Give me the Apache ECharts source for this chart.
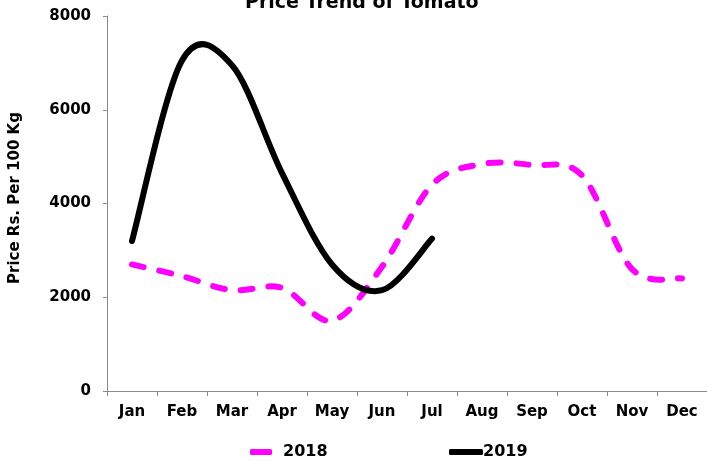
<!DOCTYPE html>
<html>
<head>
<meta charset="utf-8">
<script src="https://cdn.jsdelivr.net/npm/echarts@6/dist/echarts.min.js"></script>
<style>
html,body{margin:0;padding:0;background:#fff;}
#main{width:707px;height:461px;}
</style>
</head>
<body>
<div id="main"></div>
<script>
// month labels on the x axis
var months=['Jan','Feb','Mar','Apr','May','Jun','Jul','Aug','Sep','Oct','Nov','Dec'];
// price Rs. per 100 kg
var price2018=[2700,2450,2150,2200,1500,2650,4400,4840,4820,4600,2600,2400];
var price2019=[3200,7050,6950,4650,2700,2150,3250];
var yTicks={min:0,max:8000,interval:2000};

var font='DejaVu Sans';

// excel style smoothed line (catmull-rom as bezier), one path per series,
// the points come from the axes via api.coord
function smoothLine(values,color,dash){
	return function(params,api){
		if(params.dataIndex!==0) return;
		var p=[];
		for(var i=0;i<values.length;i++){
			p.push(api.coord([i,values[i]]));
		}
		var d='M'+p[0][0]+' '+p[0][1];
		for(var j=0;j<p.length-1;j++){
			var a=p[j-1]||p[j], b=p[j], c=p[j+1], e=p[j+2]||p[j+1];
			var c1x=b[0]+(c[0]-a[0])/6, c1y=b[1]+(c[1]-a[1])/6;
			var c2x=c[0]-(e[0]-b[0])/6, c2y=c[1]-(e[1]-b[1])/6;
			d+=' C'+c1x+' '+c1y+' '+c2x+' '+c2y+' '+c[0]+' '+c[1];
		}
		return {
			type:'path',
			shape:{pathData:d},
			style:{fill:'none',stroke:color,lineWidth:6,lineDash:dash,lineCap:'round',lineJoin:'round'}
		};
	};
}
function pairs(values){
	return values.map(function(v,i){return [i,v];});
}

var myChart=echarts.init(document.getElementById('main'));
var option={
	animation:false,
	backgroundColor:'#fff',
	title:{
		text:'Price Trend of Tomato',
		left:245,
		top:-6,
		padding:0,
		textStyle:{fontFamily:font,fontWeight:'bold',fontSize:19,color:'#000'}
	},
	legend:[{
		data:['2018'],
		left:250,top:444,padding:0,
		icon:'roundRect',itemWidth:22,itemHeight:6,
		itemStyle:{borderWidth:0},
		textStyle:{fontFamily:font,fontWeight:'bold',fontSize:16,color:'#000',padding:[0,0,0,6]}
	},{
		data:['2019'],
		left:449,top:444,padding:0,
		icon:'roundRect',itemWidth:34,itemHeight:6,
		itemStyle:{borderWidth:0},
		textStyle:{fontFamily:font,fontWeight:'bold',fontSize:16,color:'#000',padding:[0,0,0,-5]}
	}],
	grid:{left:107,top:16,width:605,height:375,containLabel:false},
	xAxis:{
		type:'category',
		data:months,
		boundaryGap:true,
		axisLine:{lineStyle:{color:'#8c8c8c',width:1}},
		axisTick:{show:true,length:5,lineStyle:{color:'#8c8c8c'}},
		axisLabel:{margin:14,fontFamily:font,fontWeight:'bold',fontSize:15,color:'#000'},
		splitLine:{show:false}
	},
	yAxis:{
		type:'value',
		min:yTicks.min,max:yTicks.max,interval:yTicks.interval,
		name:'Price Rs. Per 100 Kg',
		nameLocation:'middle',
		nameRotate:90,
		nameGap:84,
		nameTextStyle:{fontFamily:font,fontWeight:'bold',fontSize:15,color:'#000',padding:[0,0,0,11]},
		axisLine:{show:true,lineStyle:{color:'#8c8c8c',width:1}},
		axisTick:{show:true,length:4,lineStyle:{color:'#8c8c8c'}},
		axisLabel:{
			margin:16,fontFamily:font,fontWeight:'bold',fontSize:15,color:'#000',
			formatter:function(v){return String(v);}
		},
		splitLine:{show:false}
	},
	series:[{
		name:'2018',
		type:'custom',
		data:pairs(price2018),
		encode:{x:0,y:1},
		itemStyle:{color:'#ff00ff'},
		renderItem:smoothLine(price2018,'#ff00ff',[12,16]),
		z:2
	},{
		name:'2019',
		type:'custom',
		data:pairs(price2019),
		encode:{x:0,y:1},
		itemStyle:{color:'#000'},
		renderItem:smoothLine(price2019,'#000',null),
		z:3
	}]
};
myChart.setOption(option);
</script>
</body>
</html>
